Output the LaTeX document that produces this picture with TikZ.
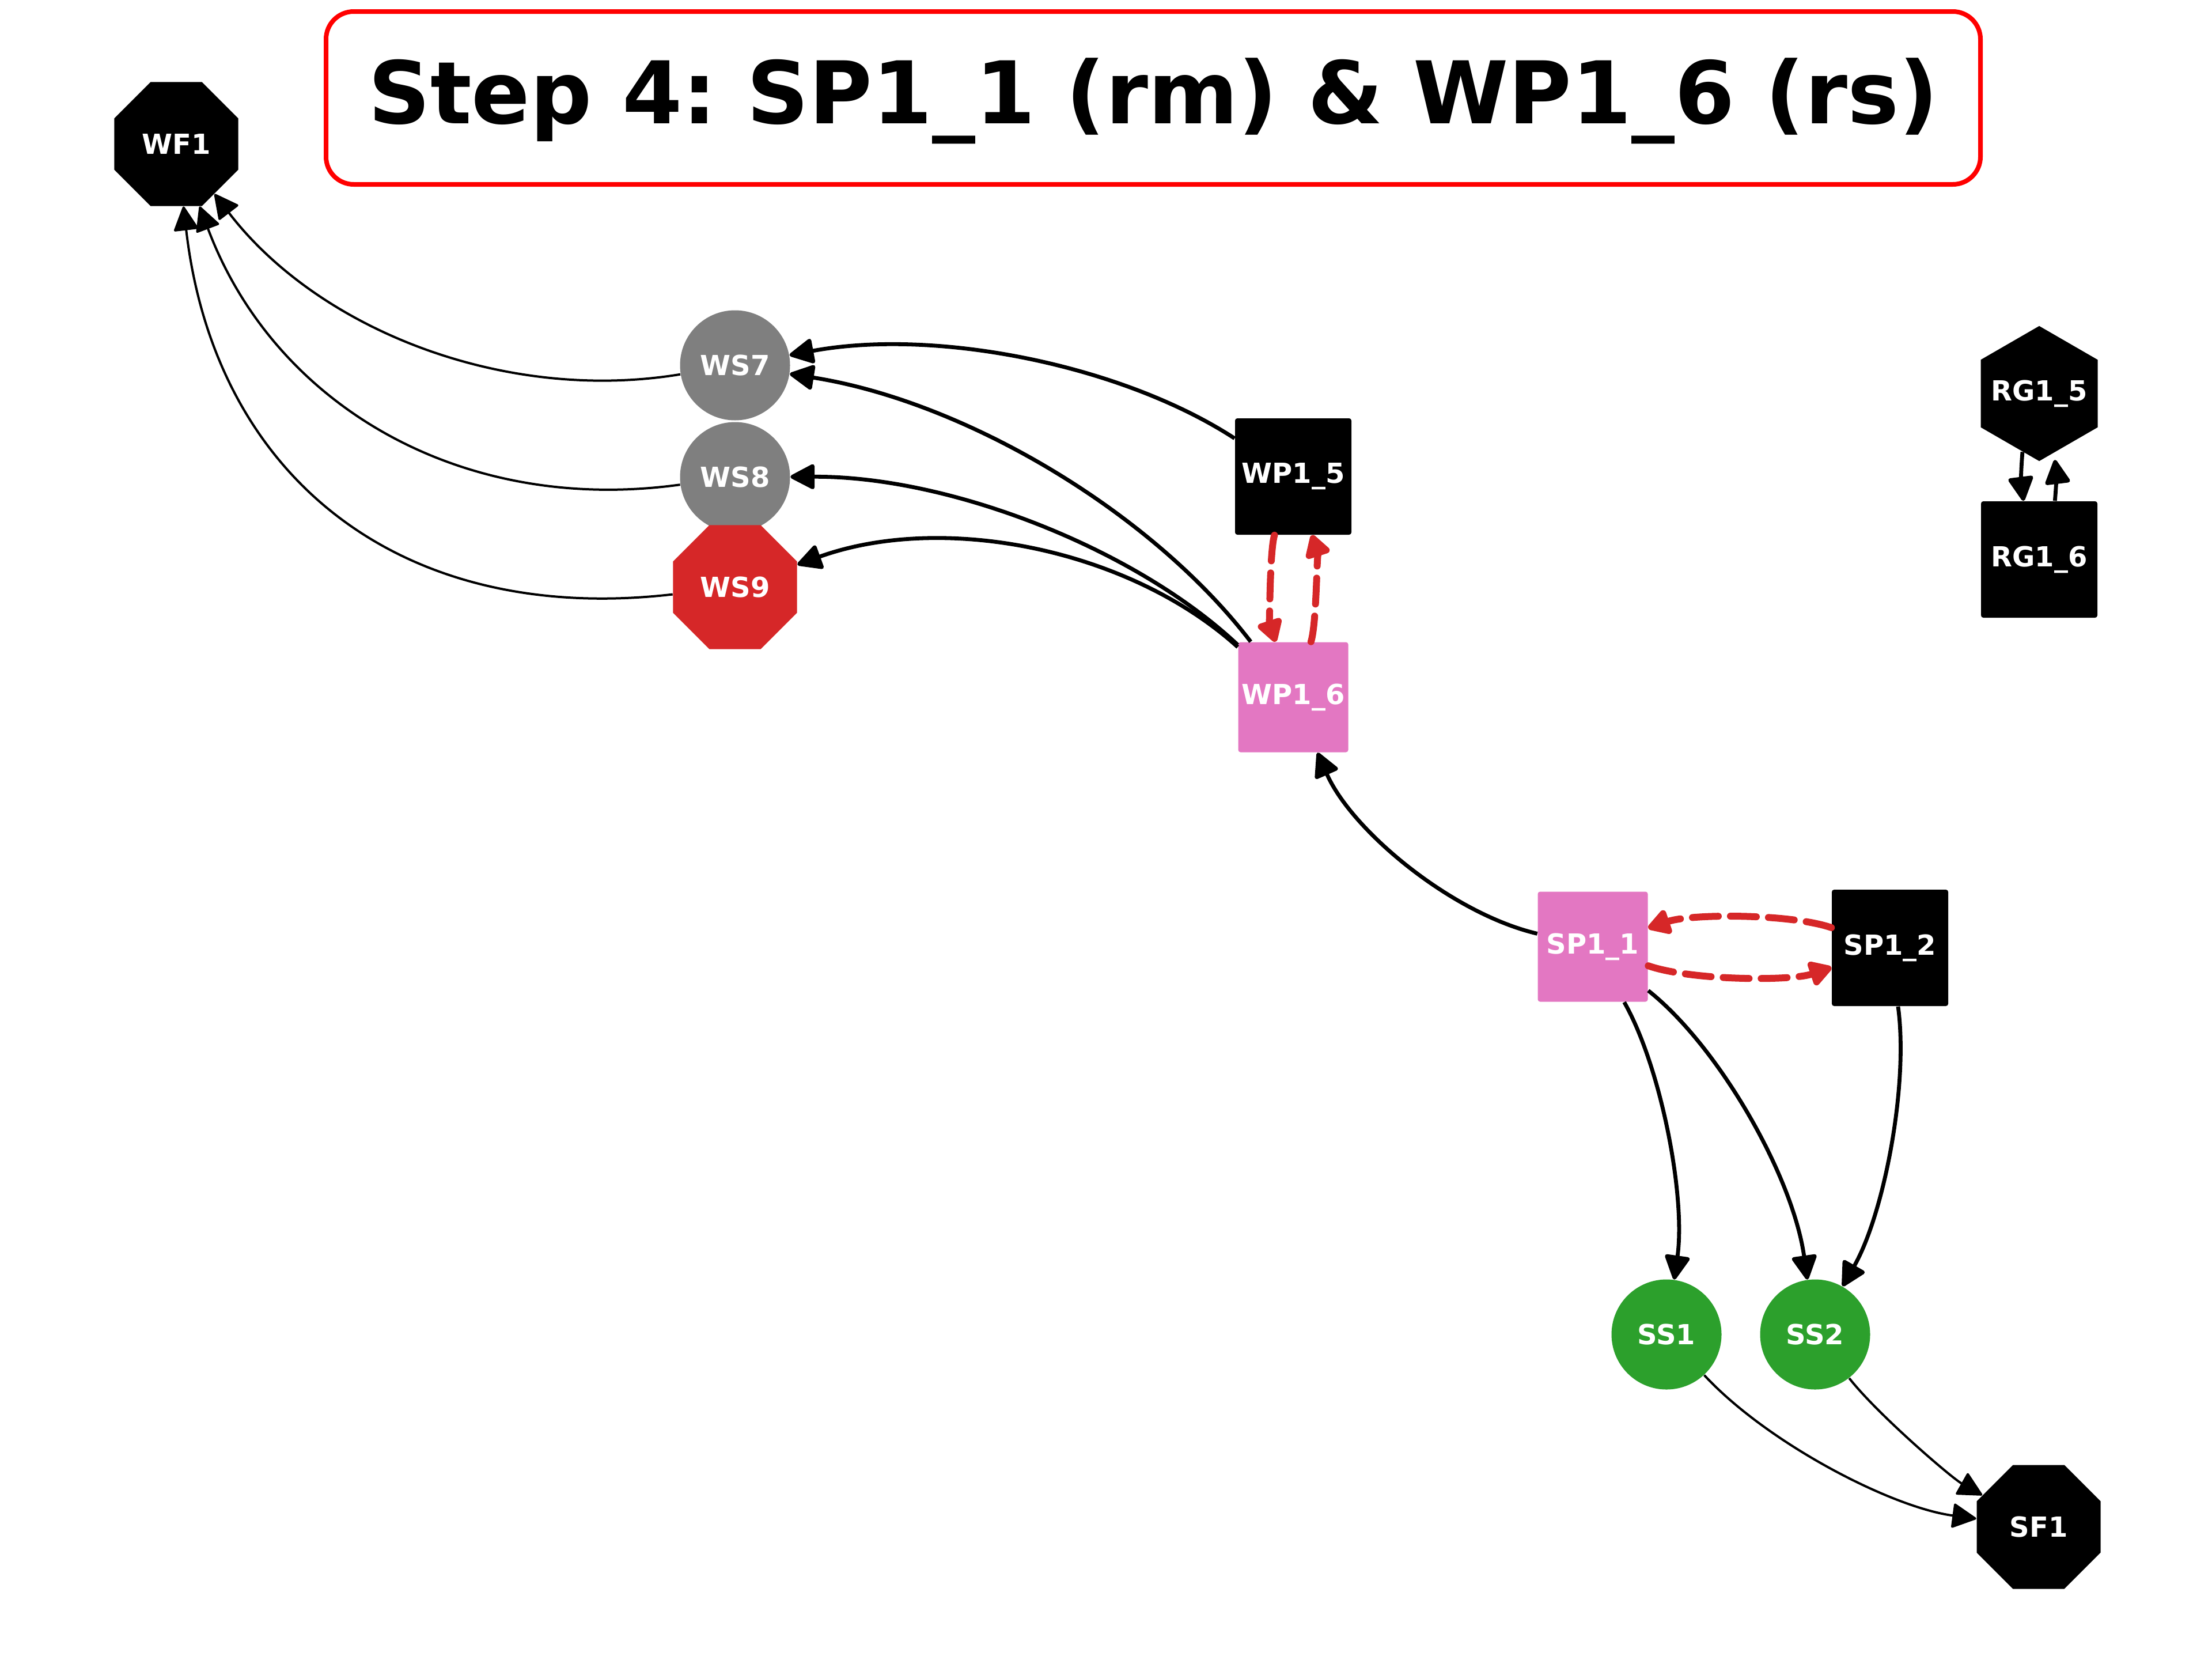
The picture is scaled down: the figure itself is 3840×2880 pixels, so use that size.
\documentclass[tikz,border=0pt]{standalone}
\usepackage{fontspec}
\setmainfont{DejaVu Sans}
\usetikzlibrary{shapes.geometric,arrows.meta,calc}
\definecolor{tgray}{HTML}{7F7F7F}
\definecolor{tred}{HTML}{D62728}
\definecolor{tpink}{HTML}{E377C2}
\definecolor{tgreen}{HTML}{2CA02C}
\newcommand\edgearc[5]{%
  \path ($(#1)!0.5!(#2)$) coordinate (m);
  \path ($(m)!#3!#4:(#2)$) coordinate (c);
  \draw[#5] (#1) .. controls ($(#1)!0.6667!(c)$) and ($(#2)!0.6667!(c)$) .. (#2);
}
\begin{document}
\frenchspacing
\begin{tikzpicture}[x=0.25pt,y=-0.25pt,
  lab/.style={text=white,font=\fontsize{12pt}{14pt}\selectfont\bfseries,inner sep=0pt},
  circ/.style={lab,circle,minimum size=47.75pt},
  octa/.style={lab,regular polygon,regular polygon sides=8,minimum size=58.2pt},
  hexa/.style={inner sep=0pt,regular polygon,regular polygon sides=6,regular polygon rotate=30,minimum size=58.6pt},
  bsq/.style={lab,rectangle,rounded corners=1pt,minimum size=50.5pt,fill=black},
  psq/.style={lab,rectangle,rounded corners=1pt,minimum size=47.75pt,fill=tpink},
  thinarr/.style={draw=black,line width=1pt,-{Triangle[length=11pt,width=11pt,round]}},
  thickarr/.style={draw=black,line width=1.7pt,-{Triangle[length=11.5pt,width=11.5pt,round]}},
  reddash/.style={draw=tred,line width=3pt,line cap=round,dash pattern=on 11.25pt off 5.25pt,-{Triangle[length=11pt,width=12pt,round]}},
]
\useasboundingbox (0,0) rectangle (3840,2880);
% title
\node[draw=red,line width=2pt,rounded corners=12pt,minimum width=718pt,minimum height=75pt,inner sep=0pt] (titlebox) at (2002,170) {};
\node[anchor=base,font=\fontsize{37.5pt}{40pt}\selectfont\bfseries,inner sep=0pt] (title) at (2002,214) {Step 4: SP1\_1 (rm) \& WP1\_6 (rs)};
% nodes
\node[octa,fill=black] (WF1) at (306,250) {WF1};
\node[circ,fill=tgray] (WS7) at (1276,634) {WS7};
\node[circ,fill=tgray] (WS8) at (1276,828) {WS8};
\node[octa,fill=tred] (WS9) at (1276,1019) {WS9};
\node[bsq] (WP15) at (2245,827) {WP1\_5};
\node[psq] (WP16) at (2245,1210) {WP1\_6};
\node[psq] (SP11) at (2765,1643) {SP1\_1};
\node[bsq] (SP12) at (3281,1645) {SP1\_2};
\node[circ,fill=tgreen] (SS1) at (2893,2316) {SS1};
\node[circ,fill=tgreen] (SS2) at (3151,2316) {SS2};
\node[octa,fill=black] (SF1) at (3539,2650) {SF1};
\node[hexa,fill=black,label={[lab,name=RG15text]center:RG1\_5}] (RG15) at (3540,683) {};
\node[bsq] (RG16) at (3540,971) {RG1\_6};
% edges
\edgearc{WS7}{WF1}{0.6}{90}{thinarr}
\edgearc{WS8}{WF1}{0.8}{90}{thinarr}
\edgearc{WS9}{WF1}{1.0}{90}{thinarr}
\edgearc{WP15}{WS7}{0.4}{-90}{thickarr}
\edgearc{WP16}{WS7}{0.4}{-90}{thickarr}
\edgearc{WP16}{WS8}{0.4}{-90}{thickarr}
\edgearc{WP16}{WS9}{0.6}{-90}{thickarr}
\edgearc{WP15}{WP16}{0.32}{-90}{reddash}
\edgearc{WP16}{WP15}{0.32}{-90}{reddash}
\edgearc{SP11}{WP16}{0.5}{90}{thickarr}
\edgearc{SP11}{SP12}{0.34}{-90}{reddash}
\edgearc{SP12}{SP11}{0.34}{-90}{reddash}
\edgearc{SP11}{SS1}{0.34}{90}{thickarr}
\edgearc{SP11}{SS2}{0.4}{90}{thickarr}
\edgearc{SP12}{SS2}{0.34}{90}{thickarr}
\edgearc{SS1}{SF1}{0.36}{-90}{thinarr}
\edgearc{SS2}{SF1}{0.2}{-90}{thinarr}
\draw[thickarr] (RG15.254) to[bend right=6] (RG16.105);
\draw[thickarr,shorten >=3pt] (RG16.75) to[bend right=6] (RG15.284);
\end{tikzpicture}
\end{document}
